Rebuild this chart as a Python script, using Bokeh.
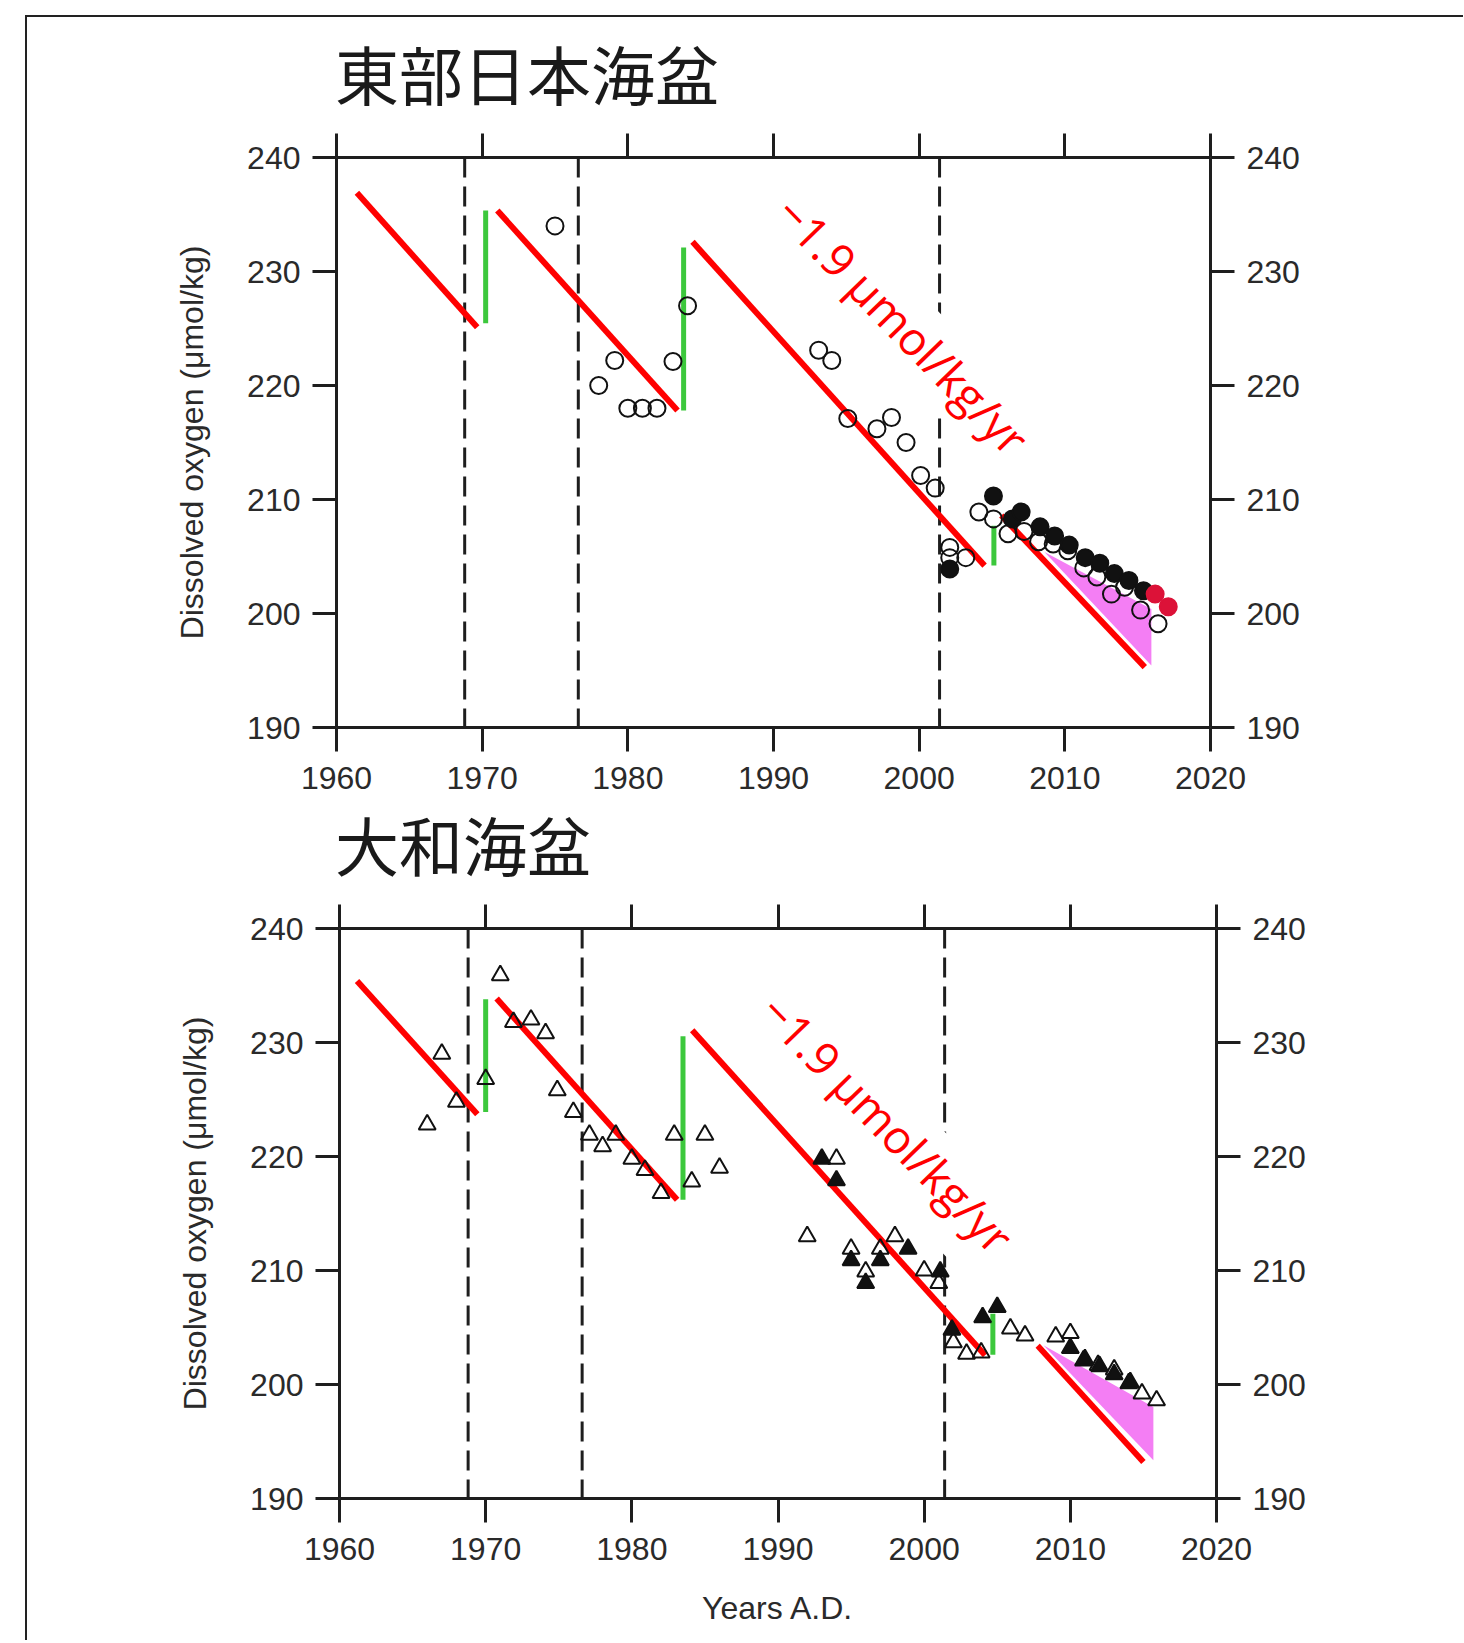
from bokeh.plotting import figure
from bokeh.models import Range1d, LinearAxis, FixedTicker, Label, Div, Span
from bokeh.layouts import column
from bokeh.embed import file_html
from bokeh.resources import INLINE

# ---------------- data ----------------
year_ticks = [1960, 1970, 1980, 1990, 2000, 2010, 2020]
do_ticks = [190, 200, 210, 220, 230, 240]
period_breaks = [1968.8, 1976.6, 2001.4]

east_title = "東部日本海盆"
yamato_title = "大和海盆"
y_label = "Dissolved oxygen (μmol/kg)"
x_label = "Years A.D."
rate_text = "−1.9 μmol/kg/yr"

# Eastern Japan Basin (circles)
east_open_year = [1975.0, 1978.0, 1979.1, 1980.0, 1981.0, 1982.0, 1983.1, 1984.1,
                  1993.1, 1994.0, 1995.1, 1997.1, 1998.1, 1999.1, 2000.1, 2001.1,
                  2002.1, 2002.1, 2003.2, 2004.1, 2005.1, 2006.1, 2007.2, 2008.2,
                  2009.2, 2010.2, 2011.3, 2012.2, 2013.2, 2014.1, 2015.2, 2016.4]
east_open_do = [234.0, 220.0, 222.2, 218.0, 218.0, 218.0, 222.1, 227.0,
                223.1, 222.2, 217.1, 216.2, 217.2, 215.0, 212.1, 211.0,
                205.8, 204.9, 204.9, 208.9, 208.3, 207.0, 207.2, 206.3,
                206.1, 205.5, 204.0, 203.2, 201.7, 202.3, 200.3, 199.1]
east_filled_year = [2002.1, 2005.1, 2006.4, 2007.0, 2008.3, 2009.3, 2010.3, 2011.4,
                    2012.4, 2013.4, 2014.4, 2015.4]
east_filled_do = [203.9, 210.3, 208.3, 208.9, 207.6, 206.8, 206.0, 204.9,
                  204.4, 203.5, 202.9, 202.0]
east_recent_year = [2016.2, 2017.1]
east_recent_do = [201.7, 200.6]

east_trend_x0 = [1961.4, 1971.04, 1984.44, 2005.64]
east_trend_y0 = [236.9, 235.35, 232.6, 208.6]
east_trend_x1 = [1969.66, 1983.41, 2004.49, 2015.49]
east_trend_y1 = [225.1, 217.8, 204.2, 195.3]
east_jump_x = [1970.24, 1983.83, 2005.13]
east_jump_lo = [225.47, 217.8, 204.2]
east_jump_hi = [235.35, 232.1, 207.7]
east_shade_x = [2008.6, 2015.94, 2015.94]
east_shade_y = [205.4, 200.4, 195.44]
east_rate_pos = [1998.9, 225.3]
east_rate_box = [1999.9, 223.95, 420, 70]   # centre year, centre value, length, thickness (px)

# Yamato Basin (triangles)
yam_open_year = [1966.0, 1967.0, 1968.0, 1970.0, 1971.0, 1971.9, 1973.1, 1974.1, 1974.9, 1976.0,
                 1977.1, 1978.0, 1978.9, 1980.0, 1980.9, 1982.0, 1982.9, 1984.1, 1985.0, 1986.0,
                 1992.0, 1994.0, 1995.0, 1996.0, 1997.0, 1998.0, 2000.0, 2001.0, 2002.0, 2002.9,
                 2003.9, 2005.9, 2006.9, 2009.0, 2010.0, 2010.9, 2011.9, 2013.0, 2014.0, 2014.9,
                 2015.9]
yam_open_do = [222.8, 229.0, 224.8, 226.8, 235.9, 231.8, 232.0, 230.8, 225.8, 223.9,
               221.9, 220.9, 221.9, 219.8, 218.8, 216.8, 221.9, 217.8, 221.9, 219.0,
               213.0, 219.8, 211.9, 209.9, 211.9, 213.0, 210.0, 208.9, 203.7, 202.7,
               202.8, 204.9, 204.3, 204.2, 204.5, 202.1, 201.7, 201.3, 200.1, 199.2,
               198.6]
yam_filled_year = [1993.0, 1994.0, 1995.0, 1996.0, 1997.0, 1998.9, 2001.1, 2001.9,
                   2004.0, 2005.0, 2010.0, 2011.0, 2012.0, 2013.0, 2014.1]
yam_filled_do = [219.8, 217.9, 210.9, 208.9, 210.9, 211.9, 209.9, 204.8,
                 205.9, 206.8, 203.2, 202.2, 201.6, 200.9, 200.2]

yam_trend_x0 = [1961.2, 1970.75, 1984.13, 2005.0]
yam_trend_y0 = [235.4, 233.86, 231.08, 207.3]
yam_trend_x1 = [1969.43, 1983.1, 2004.17, 2015.0]
yam_trend_y1 = [223.7, 216.2, 202.57, 193.2]
yam_jump_x = [1970.0, 1983.5, 2004.7]
yam_jump_lo = [223.9, 216.2, 202.6]
yam_jump_hi = [233.8, 230.55, 206.2]
yam_shade_x = [2008.16, 2015.68, 2015.68]
yam_shade_y = [203.44, 198.03, 193.36]
yam_rate_pos = [1997.5, 222.9]
yam_rate_box = [1998.9, 220.06, 453, 86]

# ---------------- styling ----------------
W = 1436
INK = "#1e1e1e"
TICK_FONT = "Liberation Sans"
TEXT_ANGLE = -0.80


def style_axis(ax, ticks):
    ax.ticker = FixedTicker(ticks=ticks)
    ax.axis_line_width = 3
    ax.axis_line_color = INK
    ax.major_tick_line_width = 3
    ax.major_tick_line_color = INK
    ax.major_tick_out = 24
    ax.major_tick_in = 0
    ax.minor_tick_line_color = None
    ax.major_label_text_font = TICK_FONT
    ax.major_label_text_font_size = "32px"
    ax.major_label_text_color = "#2a2a2a"
    ax.major_label_standoff = 12
    ax.axis_label_text_font = TICK_FONT
    ax.axis_label_text_font_size = "32px"
    ax.axis_label_text_font_style = "normal"
    ax.axis_label_text_color = "#2a2a2a"


def panel(height, left, right, bottom, marker, open_x, open_y, filled_x, filled_y,
          tx0, ty0, tx1, ty1, jx, jlo, jhi, sx, sy, rate_pos, rate_box, with_xlabel,
          red_x=None, red_y=None):
    p = figure(width=W, height=height, x_range=Range1d(year_ticks[0], year_ticks[-1]),
               y_range=Range1d(do_ticks[0], do_ticks[-1]), output_backend="svg",
               toolbar_location=None, min_border_left=left, min_border_right=right,
               min_border_top=30, min_border_bottom=bottom, outline_line_color=None,
               background_fill_color="white", border_fill_color="white", margin=0,
               frame_align=False)
    p.grid.visible = False
    p.add_layout(LinearAxis(), "above")
    p.add_layout(LinearAxis(), "right")
    for ax in p.xaxis:
        style_axis(ax, year_ticks)
        ax.major_label_standoff = 15
    for ax in p.yaxis:
        style_axis(ax, do_ticks)
    top_ax = p.above[0]
    top_ax.major_label_overrides = {t: "" for t in year_ticks}
    top_ax.major_label_text_font_size = "0px"
    top_ax.major_label_standoff = 0
    p.left[0].axis_label = y_label
    p.left[0].axis_label_standoff = 34
    if with_xlabel:
        p.below[0].axis_label = x_label
        p.below[0].axis_label_standoff = 27

    for xb in period_breaks:
        p.add_layout(Span(location=xb, dimension="height", line_color=INK,
                          line_width=3, line_dash="20 9", level="underlay"))

    p.patch(x=sx, y=sy, fill_color="#f47ef4", line_color=None)

    p.segment(x0=tx0, y0=ty0, x1=tx1, y1=ty1, line_color="#ff0000", line_width=6)
    p.segment(x0=jx, y0=jlo, x1=jx, y1=jhi, line_color="#3cc83c", line_width=5)

    # white backing of the rate annotation (it masks the lines beneath it)
    p.rect(x=[rate_box[0]], y=[rate_box[1]], width=[rate_box[2]], height=[rate_box[3]],
           angle=TEXT_ANGLE, width_units="screen", height_units="screen",
           fill_color="white", line_color=None)

    p.scatter(x=open_x, y=open_y, marker=marker, size=17, fill_color=None,
              line_color="#111111", line_width=2)
    p.scatter(x=filled_x, y=filled_y, marker=marker, size=17, fill_color="#111111",
              line_color="#111111", line_width=2)
    if red_x is not None:
        p.scatter(x=red_x, y=red_y, marker=marker, size=17, fill_color="#dc1238",
                  line_color="#dc1238", line_width=2)

    p.add_layout(Label(x=rate_pos[0], y=rate_pos[1], text=rate_text, angle=TEXT_ANGLE,
                       text_align="center", text_baseline="middle",
                       text_color="#ff0000", text_font="Open Sans",
                       text_font_size="46px"))
    return p


p1 = panel(30 + 570 + 78, 309, W + 27 - 1210, 78, "circle",
           east_open_year, east_open_do, east_filled_year, east_filled_do,
           east_trend_x0, east_trend_y0, east_trend_x1, east_trend_y1,
           east_jump_x, east_jump_lo, east_jump_hi, east_shade_x, east_shade_y,
           east_rate_pos, east_rate_box, False, east_recent_year, east_recent_do)

p2 = panel(30 + 570 + 142, 312, W + 27 - 1216, 142, "triangle",
           yam_open_year, yam_open_do, yam_filled_year, yam_filled_do,
           yam_trend_x0, yam_trend_y0, yam_trend_x1, yam_trend_y1,
           yam_jump_x, yam_jump_lo, yam_jump_hi, yam_shade_x, yam_shade_y,
           yam_rate_pos, yam_rate_box, True)


def title_div(text, h, lh):
    return Div(text=('<div style="font-family:\'Noto Sans CJK JP\';font-size:64px;'
                     'line-height:%dpx;color:#1a1a1a;padding-left:308px;'
                     'white-space:nowrap;margin:0;">%s</div>') % (lh, text),
               width=W, height=h, margin=0)


d1 = title_div(east_title, 110, 110)
d2 = title_div(yamato_title, 93, 76)

layout = column(d1, p1, d2, p2, margin=(15, 0, 0, 25),
                styles={"border-top": "2px solid #222", "border-left": "2px solid #222"})

open("out.html", "w").write(file_html(layout, INLINE))
